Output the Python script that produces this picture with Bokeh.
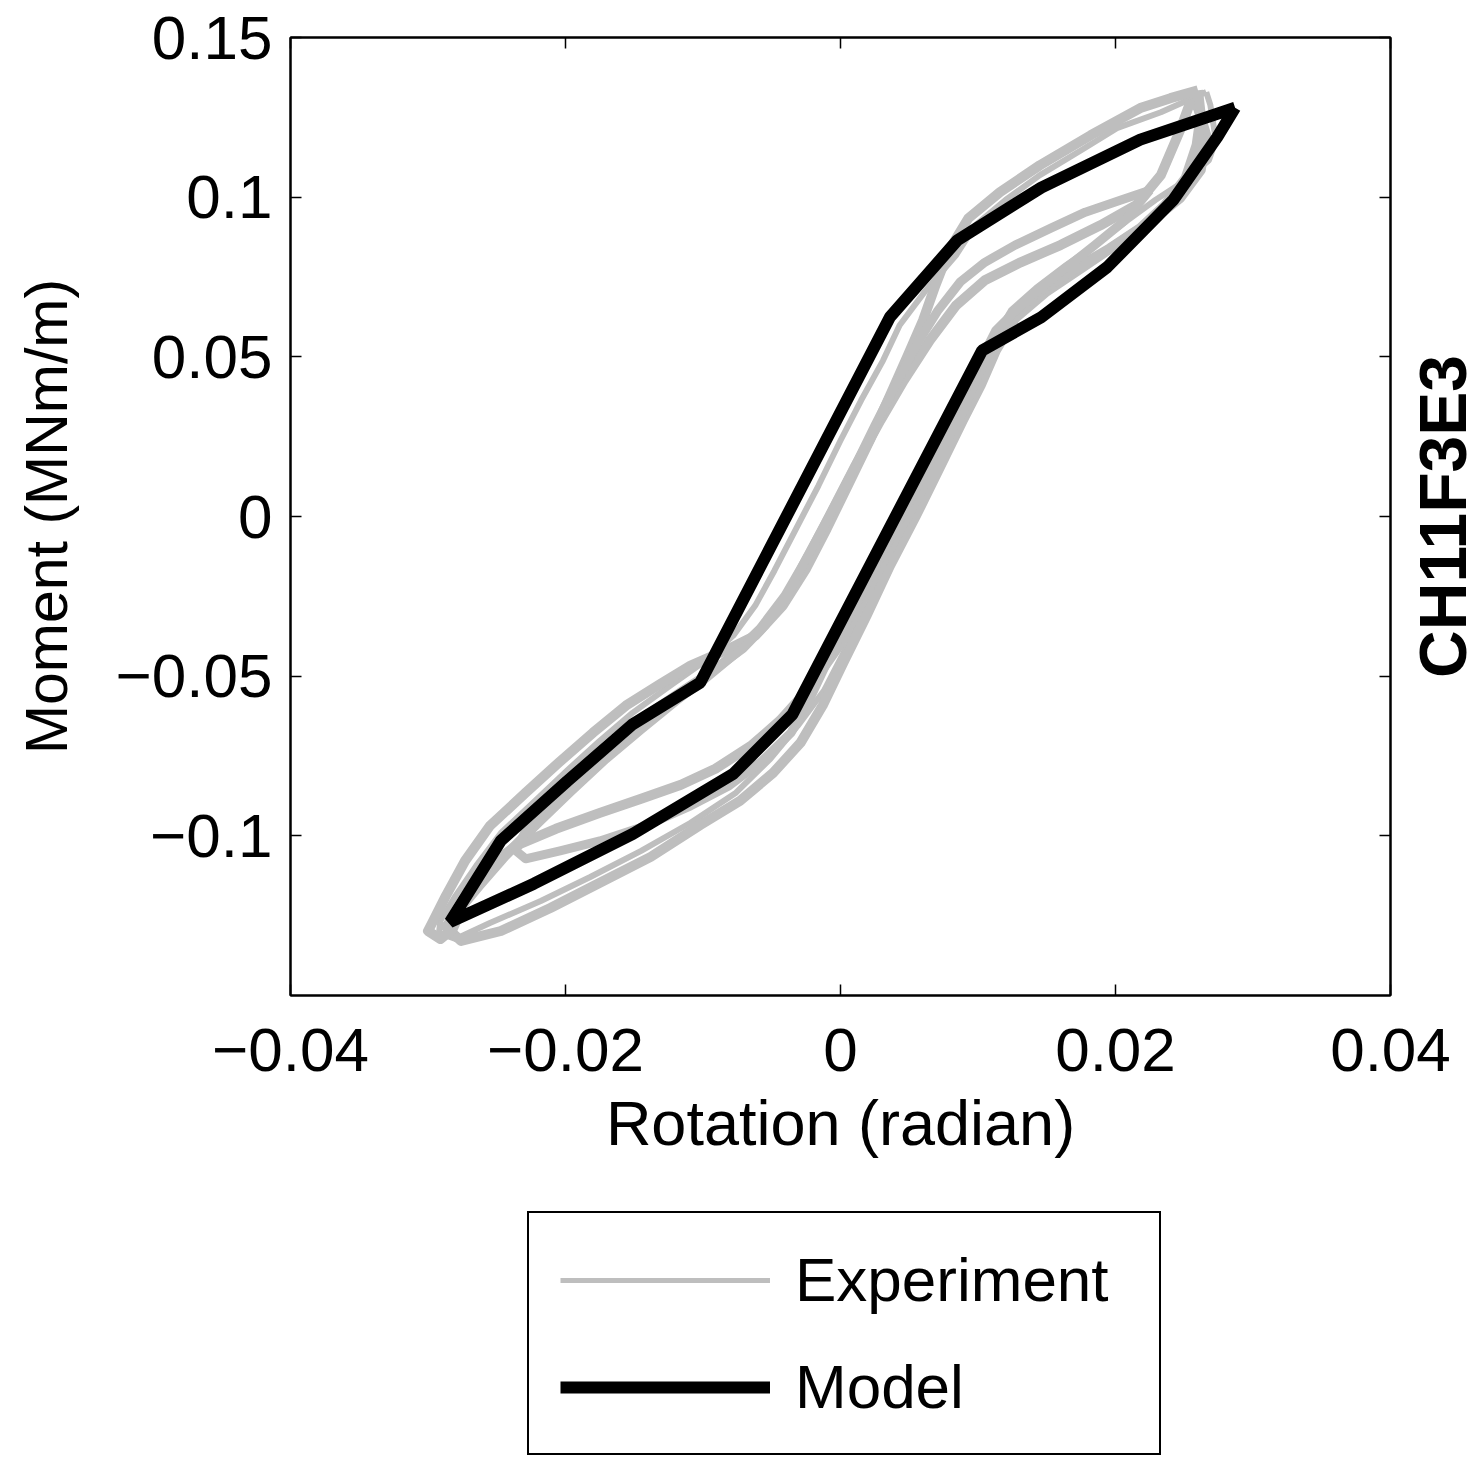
import math
from bokeh.plotting import figure
from bokeh.layouts import column, row
from bokeh.models import (Range1d, LinearAxis, FixedTicker, Legend, LegendItem, Label)
from bokeh.embed import file_html
from bokeh.resources import INLINE

FONT = "Liberation Sans"

# ---------------- data ----------------
x_ticks = [-0.04, -0.02, 0, 0.02, 0.04]
x_tick_labels = ["\u22120.04", "\u22120.02", "0", "0.02", "0.04"]
y_ticks = [-0.1, -0.05, 0, 0.05, 0.1, 0.15]
y_tick_labels = ["\u22120.1", "\u22120.05", "0", "0.05", "0.1", "0.15"]

x_title = "Rotation (radian)"
y_title = "Moment (MNm/m)"
specimen = "CH11F3E3"
series_names = ["Experiment", "Model"]

# Model hysteresis loop (rotation, moment)
model_rot = [0.0287, 0.0218, 0.0146, 0.0085, 0.0036, -0.0102, -0.0151, -0.0199,
             -0.0247, -0.0284, -0.0223, -0.0151, -0.0078, -0.0035, 0.0103,
             0.0146, 0.0194, 0.0242, 0.0274, 0.0287]
model_mom = [0.128, 0.118, 0.103, 0.0865, 0.0625, -0.052, -0.065, -0.083,
             -0.1015, -0.127, -0.115, -0.0994, -0.0806, -0.062, 0.052,
             0.0624, 0.0781, 0.0991, 0.1188, 0.128]

exp1_rot = [0.0266, 0.0233, 0.0201, 0.0175, 0.0145, 0.0120, 0.0098, 0.0084, 0.0062,
            0.0043, 0.0031, 0.0015, 0.0000, -0.0016, -0.0033, -0.0048, -0.0062,
            -0.0078, -0.0098, -0.0124, -0.0151, -0.0175, -0.0199, -0.0222, -0.0247,
            -0.0265, -0.0280, -0.0291, -0.0292,
            -0.0280, -0.0255, -0.0218, -0.0182, -0.0145, -0.0109, -0.0076, -0.0051,
            -0.0031, -0.0012, 0.0003, 0.0022, 0.0041, 0.0060, 0.0079, 0.0093,
            0.0103, 0.0111, 0.0124, 0.0142, 0.0164, 0.0185, 0.0207, 0.0229, 0.0251,
            0.0268, 0.0273, 0.0269, 0.0266]
exp1_mom = [0.1329, 0.1266, 0.1216, 0.1147, 0.1069, 0.0991, 0.0912, 0.0818, 0.0708,
            0.0599, 0.0489, 0.0364, 0.0238, 0.0097, -0.0044, -0.0169, -0.0279,
            -0.0373, -0.0451, -0.0530, -0.0614, -0.0702, -0.0796, -0.0890, -0.0991,
            -0.1094, -0.1188, -0.1266, -0.1304,
            -0.1323, -0.1273, -0.1204, -0.1129, -0.1047, -0.0959, -0.0865, -0.0759,
            -0.0655, -0.0545, -0.0420, -0.0263, -0.0107, 0.0050, 0.0207, 0.0332,
            0.0442, 0.0552, 0.0646, 0.0715, 0.0787, 0.0850, 0.0922, 0.0991, 0.1053,
            0.1116, 0.1179, 0.1288, 0.1329]

exp2_rot = [0.0255, 0.0247, 0.0233, 0.0215, 0.0189, 0.0160, 0.0131, 0.0105, 0.0084,
            0.0065, 0.0046, 0.0029, 0.0011, -0.0006, -0.0023, -0.0040, -0.0058,
            -0.0076, -0.0098, -0.0120, -0.0145, -0.0171, -0.0196, -0.0220, -0.0244,
            -0.0263, -0.0278, -0.0287,
            -0.0276, -0.0247, -0.0211, -0.0175, -0.0138, -0.0102, -0.0073, -0.0049,
            -0.0029, -0.0013, 0.0002, 0.0019, 0.0036, 0.0055, 0.0073, 0.0089,
            0.0102, 0.0113, 0.0127, 0.0149, 0.0175, 0.0200, 0.0225, 0.0247, 0.0262,
            0.0266, 0.0260, 0.0255]
exp2_mom = [0.1304, 0.1210, 0.1069, 0.0975, 0.0912, 0.0850, 0.0796, 0.0740, 0.0661,
            0.0552, 0.0426, 0.0301, 0.0160, 0.0019, -0.0122, -0.0248, -0.0351,
            -0.0426, -0.0505, -0.0577, -0.0665, -0.0759, -0.0859, -0.0959, -0.1063,
            -0.1157, -0.1235, -0.1285,
            -0.1329, -0.1298, -0.1226, -0.1147, -0.1066, -0.0966, -0.0890, -0.0803,
            -0.0708, -0.0592, -0.0458, -0.0310, -0.0154, 0.0003, 0.0160, 0.0301,
            0.0411, 0.0520, 0.0621, 0.0702, 0.0777, 0.0850, 0.0922, 0.0997, 0.1085,
            0.1194, 0.1279, 0.1304]

exp3_rot = [0.0260, 0.0240, 0.0218, 0.0182, 0.0145, 0.0116, 0.0093, 0.0079, 0.0069,
            0.0060, 0.0049, 0.0036, 0.0022, 0.0006, -0.0010, -0.0025, -0.0042,
            -0.0062, -0.0084, -0.0109, -0.0132, -0.0156, -0.0180, -0.0205, -0.0229,
            -0.0255, -0.0273, -0.0287, -0.0297, -0.0300,
            -0.0291, -0.0282, -0.0273, -0.0258, -0.0236, -0.0207, -0.0175, -0.0145,
            -0.0116, -0.0091, -0.0065, -0.0044, -0.0023, -0.0001, 0.0016, 0.0035,
            0.0055, 0.0073, 0.0089, 0.0100, 0.0109, 0.0124, 0.0145, 0.0171, 0.0196,
            0.0218, 0.0236, 0.0251, 0.0259, 0.0262, 0.0260]
exp3_mom = [0.1335, 0.1310, 0.1279, 0.1194, 0.1100, 0.1016, 0.0934, 0.0834, 0.0724,
            0.0614, 0.0505, 0.0379, 0.0245, 0.0103, -0.0038, -0.0163, -0.0279,
            -0.0373, -0.0420, -0.0467, -0.0527, -0.0592, -0.0677, -0.0771, -0.0865,
            -0.0969, -0.1078, -0.1188, -0.1273, -0.1298,
            -0.1323, -0.1292, -0.1204, -0.1103, -0.1031, -0.0978, -0.0928, -0.0884,
            -0.0840, -0.0790, -0.0718, -0.0639, -0.0539, -0.0404, -0.0263, -0.0107,
            0.0050, 0.0207, 0.0332, 0.0442, 0.0536, 0.0630, 0.0708, 0.0777, 0.0840,
            0.0903, 0.0975, 0.1060, 0.1163, 0.1257, 0.1335]

exp4_rot = [0.0225, 0.0204, 0.0178, 0.0153, 0.0127, 0.0105, 0.0087, 0.0071, 0.0055,
            0.0040, 0.0025, 0.0009, -0.0008, -0.0025, -0.0039, -0.0055, -0.0071,
            -0.0093, -0.0115, -0.0140, -0.0166, -0.0191, -0.0212, -0.0229, -0.0236,
            -0.0229, -0.0204, -0.0175, -0.0142, -0.0109, -0.0081, -0.0057, -0.0036,
            -0.0023, -0.0010, 0.0005, 0.0022, 0.0041, 0.0060, 0.0076, 0.0090,
            0.0102, 0.0113, 0.0135, 0.0160, 0.0185, 0.0207, 0.0225]
exp4_mom = [0.1022, 0.0991, 0.0953, 0.0903, 0.0850, 0.0796, 0.0734, 0.0646, 0.0536,
            0.0411, 0.0285, 0.0144, 0.0003, -0.0132, -0.0248, -0.0342, -0.0414,
            -0.0483, -0.0545, -0.0618, -0.0702, -0.0790, -0.0884, -0.0984, -0.1047,
            -0.1072, -0.1047, -0.1016, -0.0969, -0.0906, -0.0843, -0.0765, -0.0677,
            -0.0577, -0.0458, -0.0326, -0.0185, -0.0028, 0.0129, 0.0270, 0.0389,
            0.0489, 0.0583, 0.0677, 0.0765, 0.0850, 0.0928, 0.1022]

exp_rot = [exp1_rot, exp2_rot, exp3_rot, exp4_rot]
exp_mom = [exp1_mom, exp2_mom, exp3_mom, exp4_mom]
exp_widths = [6, 10, 10, 9]

GRAY = "#bebebe"
EXP_LEGEND_WIDTH = 5
MODEL_WIDTH = 12

X_RANGE = Range1d(-0.04, 0.04)
Y_RANGE = Range1d(-0.15, 0.15)


def blank(fig):
    fig.xgrid.visible = False
    fig.ygrid.visible = False
    fig.outline_line_color = None


def style_axis(ax, ticks, labels, show_labels=True, standoff=18):
    ax.ticker = FixedTicker(ticks=ticks)
    ax.major_label_overrides = {t: l for t, l in zip(ticks, labels)}
    ax.axis_line_color = "black"
    ax.axis_line_width = 2
    ax.major_tick_in = 11
    ax.major_tick_out = 0
    ax.major_tick_line_width = 1.5
    ax.major_tick_line_color = "black"
    ax.minor_tick_line_color = None
    ax.major_label_text_font = FONT
    ax.major_label_text_font_size = "62px"
    ax.major_label_text_color = "black"
    ax.major_label_standoff = standoff
    if not show_labels:
        ax.major_label_text_alpha = 0
        ax.major_label_text_font_size = "1px"
        ax.major_label_standoff = 0


# ---------------- main plot (frame 290..1390 x 37..995) ----------------
p = figure(width=1395, height=998, output_backend="svg", toolbar_location=None,
           x_range=X_RANGE, y_range=Y_RANGE,
           min_border_left=290, min_border_right=5, min_border_top=37,
           min_border_bottom=3, background_fill_color="white",
           border_fill_color="white")
p.xgrid.visible = False
p.ygrid.visible = False
p.outline_line_color = "black"
p.outline_line_width = 2

style_axis(p.xaxis[0], x_ticks, x_tick_labels, show_labels=False)
ya = p.yaxis[0]
style_axis(ya, y_ticks, y_tick_labels, standoff=18)
ya.axis_label = y_title
ya.axis_label_text_font = FONT
ya.axis_label_text_font_size = "59px"
ya.axis_label_text_font_style = "normal"
ya.axis_label_text_color = "black"
ya.axis_label_standoff = 33

top = LinearAxis()
style_axis(top, x_ticks, x_tick_labels, show_labels=False)
p.add_layout(top, "above")
right = LinearAxis()
style_axis(right, y_ticks, y_tick_labels, show_labels=False)
p.add_layout(right, "right")

exp_renderers = []
for rx, ry, w in zip(exp_rot, exp_mom, exp_widths):
    exp_renderers.append(p.line(rx, ry, line_color=GRAY, line_width=w,
                                line_join="round"))
model_r = p.line(model_rot, model_mom, line_color="black", line_width=MODEL_WIDTH)

# ---------------- specimen label strip (right of the plot) ----------------
r_side = figure(width=85, height=998, output_backend="svg", toolbar_location=None,
                x_range=Range1d(0, 1), y_range=Y_RANGE,
                min_border_left=0, min_border_right=0, min_border_top=37,
                min_border_bottom=3, background_fill_color="white",
                border_fill_color="white")
r_side.axis.visible = False
blank(r_side)
r_side.add_layout(Label(x=0.56, y=0, text=specimen, angle=math.pi / 2,
                        text_align="center", text_baseline="middle",
                        text_font=FONT, text_font_style="bold",
                        text_font_size="66px", text_color="black"))

# ---------------- x tick labels and x title strip ----------------
q_axis = figure(width=1480, height=200, output_backend="svg", toolbar_location=None,
                x_range=X_RANGE, y_range=Range1d(0, 1),
                min_border_left=290, min_border_right=90, min_border_top=0,
                min_border_bottom=199, background_fill_color="white",
                border_fill_color="white")
q_axis.yaxis.visible = False
blank(q_axis)
xa = q_axis.xaxis[0]
style_axis(xa, x_ticks, x_tick_labels, standoff=29)
xa.axis_line_color = None
xa.major_tick_line_color = None
xa.axis_label = x_title
xa.axis_label_text_font = FONT
xa.axis_label_text_font_size = "63px"
xa.axis_label_text_font_style = "normal"
xa.axis_label_text_color = "black"
xa.axis_label_standoff = 14

# ---------------- legend strip ----------------
q_leg = figure(width=1480, height=263, output_backend="svg", toolbar_location=None,
               x_range=Range1d(1, 2), y_range=Range1d(1, 2),
               min_border_left=290, min_border_right=90, min_border_top=0,
               min_border_bottom=0, background_fill_color="white",
               border_fill_color="white")
q_leg.axis.visible = False
blank(q_leg)
# legend swatches: same series, lying outside this strip's visible ranges
leg_exp = q_leg.line(exp1_rot, exp1_mom, line_color=GRAY, line_width=EXP_LEGEND_WIDTH)
leg_model = q_leg.line(model_rot, model_mom, line_color="black", line_width=MODEL_WIDTH)

legend = Legend(items=[LegendItem(label=series_names[0], renderers=[leg_exp]),
                       LegendItem(label=series_names[1], renderers=[leg_model])],
                location=(237, 6), orientation="vertical", margin=0,
                padding=31, spacing=36, glyph_width=210, glyph_height=70,
                label_height=70, label_width=333, label_standoff=25,
                label_text_font=FONT, label_text_font_size="62px",
                label_text_color="black", border_line_color="black",
                border_line_alpha=1, border_line_width=2,
                background_fill_color="white", background_fill_alpha=1)
q_leg.add_layout(legend, "center")

layout = column(row(p, r_side, spacing=0), q_axis, q_leg, spacing=0)
open("out.html", "w").write(file_html(layout, INLINE))
